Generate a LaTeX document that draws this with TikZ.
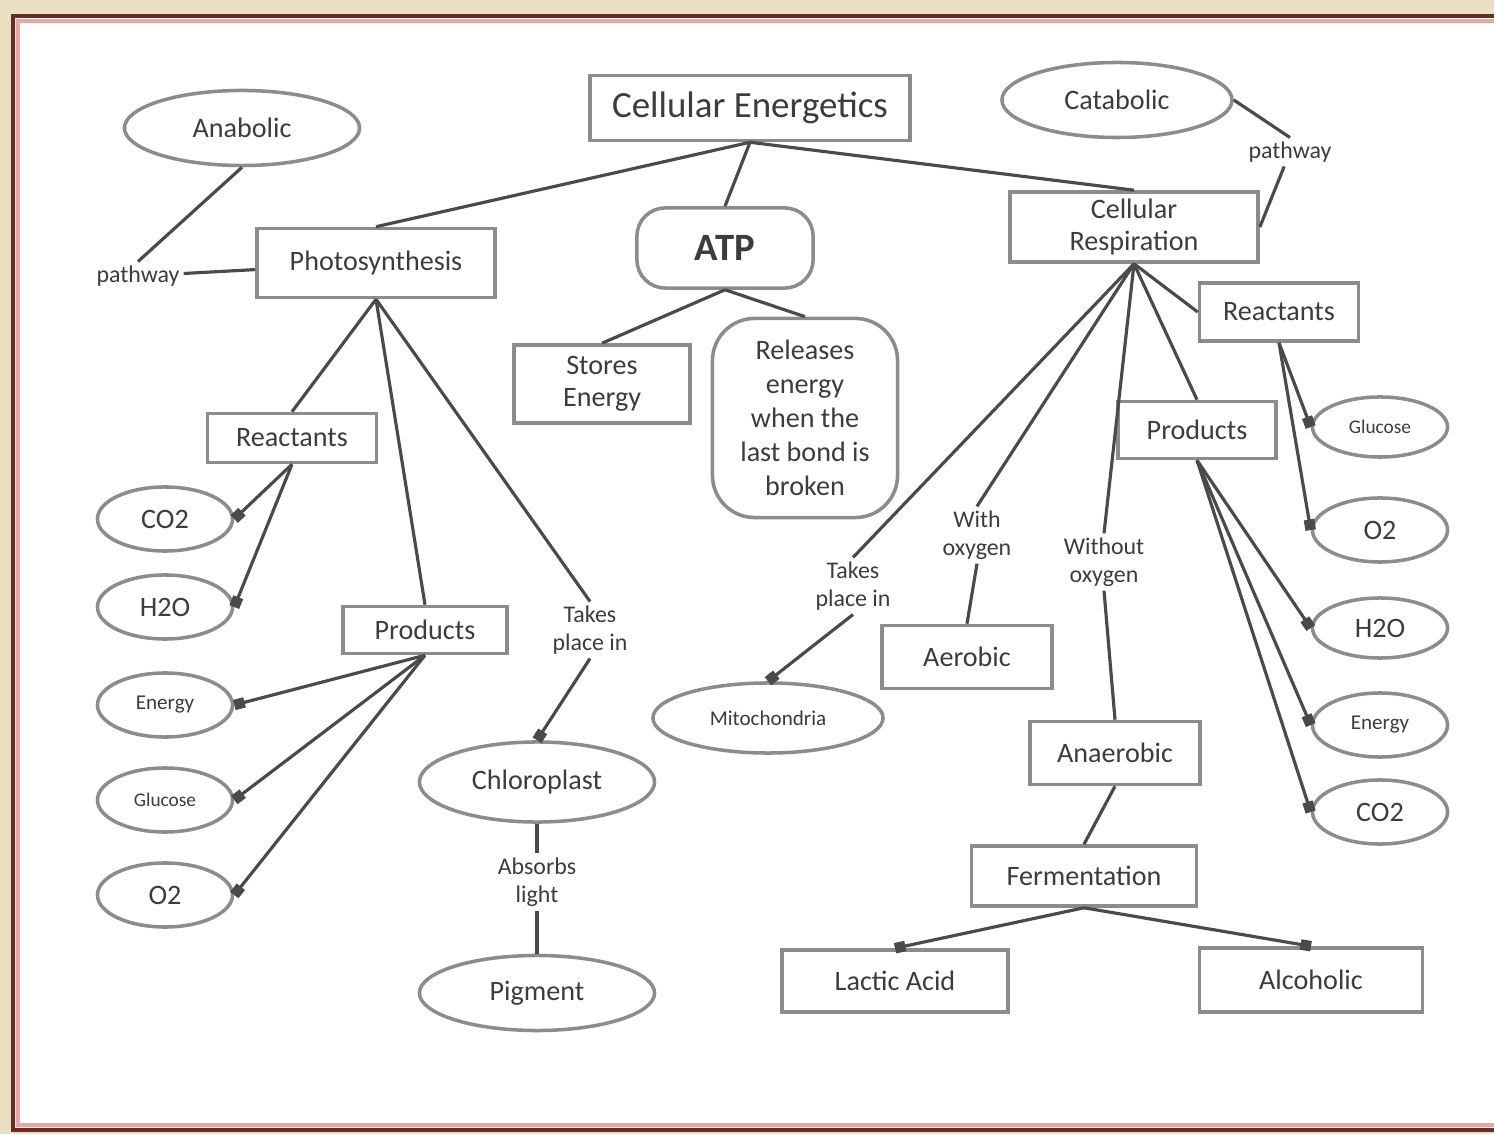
\documentclass[tikz,border=0pt]{standalone}
\usepackage{fontspec}
\setmainfont{Carlito}
\usetikzlibrary{shapes.geometric,arrows.meta}
\definecolor{framebg}{HTML}{E9DFC3}
\definecolor{framered}{HTML}{6E2A24}
\definecolor{framepink}{HTML}{E8A9A6}
\definecolor{edgegray}{HTML}{8C8C8C}
\definecolor{linegray}{HTML}{4A4A4A}
\definecolor{textgray}{HTML}{3C3C3C}

\begin{document}
\begin{tikzpicture}[x=0.01cm,y=-0.01cm,
    box/.style={draw=edgegray,line width=1pt,rectangle,text=textgray,font=\fontsize{8}{9}\selectfont,align=center,inner sep=0pt},
    rbox/.style={box,rounded corners=8pt},
    oval/.style={draw=edgegray,line width=1pt,ellipse,text=textgray,font=\fontsize{8}{9}\selectfont,inner sep=0pt,minimum width=1.35cm,minimum height=0.64cm},
    small/.style={font=\fontsize{6}{7}\selectfont},
    tiny/.style={font=\fontsize{5.5}{6.5}\selectfont},
    note/.style={text=textgray,font=\fontsize{6.8}{8}\selectfont,align=center,inner sep=1pt},
    link/.style={draw=linegray,line width=0.9pt},
    sqend/.style={link,-{Square[length=3pt,width=3pt]}}]
      \useasboundingbox (0,0) rectangle (1494,1134);
      \fill[framebg] (0,0) rectangle (1494,1134);
      \fill[white] (13,16) rectangle (1494,1130);
      \draw[framered,line width=1.2pt] (1494,16) -- (13,16) -- (13,1130) -- (1494,1130);
      \draw[framepink,line width=1.2pt] (1494,21) -- (18,21) -- (18,1125) -- (1494,1125);

      \node[box,minimum width=3.2cm,minimum height=0.65cm,font=\fontsize{10.5}{12}\selectfont] (1) at (750,108) {Cellular Energetics};
      \node[oval,minimum width=2.3cm,minimum height=0.75cm] (2) at (1117,100) {Catabolic};
      \node[note] (3) at (1290,152) {pathway};
      \node[box,minimum width=2.48cm,minimum height=0.7cm] (4) at (1134,227) {Cellular\\Respiration};
      \node[oval,minimum width=2.35cm,minimum height=0.75cm] (5) at (242,128) {Anabolic};
      \node[note] (6) at (138,276) {pathway};
      \node[box,minimum width=2.38cm,minimum height=0.69cm] (7) at (376,263) {Photosynthesis};
      \node[rbox,minimum width=1.76cm,minimum height=0.8cm,font=\bfseries\fontsize{11}{13}\selectfont] (8) at (725,248) {ATP};
      \node[box,minimum width=1.76cm,minimum height=0.78cm] (9) at (602,384) {Stores\\Energy};
      \node[rbox,minimum width=1.85cm,minimum height=1.99cm,rounded corners=12pt,font=\fontsize{8}{9.7}\selectfont] (10) at (805,418) {Releases\\energy\\when the\\last bond is\\broken};

      \node[box,minimum width=1.69cm,minimum height=0.49cm] (11) at (292,438) {Reactants};
      \node[oval] (12) at (165,519) {CO2};
      \node[oval] (13) at (165,607) {H2O};
      \node[box,minimum width=1.64cm,minimum height=0.47cm] (14) at (425,630) {Products};
      \node[oval,small] (15) at (165,705) {Energy};
      \node[oval,tiny] (16) at (165,800) {Glucose};
      \node[oval] (17) at (165,895) {O2};
      \node[note] (18) at (590,630) {Takes\\place in};
      \node[oval,minimum width=2.35cm,minimum height=0.8cm] (19) at (537,782) {Chloroplast};
      \node[note] (20) at (537,882) {Absorbs\\light};
      \node[oval,minimum width=2.35cm,minimum height=0.75cm] (21) at (537,993) {Pigment};

      \node[oval,small,minimum width=2.3cm,minimum height=0.7cm] (22) at (768,718) {Mitochondria};
      \node[note] (23) at (853,586) {Takes\\place in};
      \node[note] (24) at (977,535) {With\\oxygen};
      \node[box,minimum width=1.7cm,minimum height=0.63cm] (25) at (967,657) {Aerobic};
      \node[note] (26) at (1104,562) {Without\\oxygen};
      \node[box,minimum width=1.7cm,minimum height=0.63cm] (27) at (1115,753) {Anaerobic};
      \node[box,minimum width=2.25cm,minimum height=0.6cm] (28) at (1084,876) {Fermentation};
      \node[box,minimum width=2.26cm,minimum height=0.62cm] (29) at (895,981) {Lactic Acid};
      \node[box,minimum width=2.23cm,minimum height=0.64cm] (30) at (1311,980) {Alcoholic};
      \node[box,minimum width=1.59cm,minimum height=0.58cm] (31) at (1279,312) {Reactants};
      \node[box,minimum width=1.58cm,minimum height=0.57cm] (32) at (1197,430) {Products};
      \node[oval,tiny,minimum height=0.6cm] (33) at (1380,427) {Glucose};
      \node[oval] (34) at (1380,530) {O2};
      \node[oval,minimum height=0.6cm] (35) at (1380,628) {H2O};
      \node[oval,small] (36) at (1380,725) {Energy};
      \node[oval] (37) at (1380,812) {CO2};

      \draw[link] (1.south) -- (7.north);
      \draw[link] (1.south) -- (8.north);
      \draw[link] (1.south) -- (4.north);
      \draw[link] (5.south) -- (6.north);
      \draw[link] (6) -- (7);
      \draw[link] (2.east) -- (3.north);
      \draw[link] (3) -- (4.east);
      \draw[link] (8.south) -- (9.north);
      \draw[link] (8.south) -- (10.north);

      \draw[link] (7.south) -- (11.north);
      \draw[link] (7.south) -- (14.north);
      \draw[link] (7.south) -- (18.north);
      \draw[sqend] (11.south) -- (12.east);
      \draw[sqend] (11.south) -- (13.east);
      \draw[sqend] (14.south) -- (15.east);
      \draw[sqend] (14.south) -- (16.east);
      \draw[sqend] (14.south) -- (17.east);
      \draw[sqend] (18.south) -- (19.north);
      \draw[link] (19.south) -- (20.north);
      \draw[link] (20.south) -- (21.north);

      \draw[link] (4.south) -- (23.north);
      \draw[sqend] (23.south) -- (22.north);
      \draw[link] (4.south) -- (24.north);
      \draw[link] (24.south) -- (25.north);
      \draw[link] (4.south) -- (26.north);
      \draw[link] (26.south) -- (27.north);
      \draw[link] (4.south) -- (32.north);
      \draw[link] (4.south) -- (31.west);
      \draw[sqend] (31.south) -- (33.west);
      \draw[sqend] (31.south) -- (34.west);
      \draw[sqend] (32.south) -- (35.west);
      \draw[sqend] (32.south) -- (36.west);
      \draw[sqend] (32.south) -- (37.west);
      \draw[link] (27.south) -- (28.north);
      \draw[sqend] (28.south) -- (29.north);
      \draw[sqend] (28.south) -- (30.north);
    \end{tikzpicture}
\end{document}
